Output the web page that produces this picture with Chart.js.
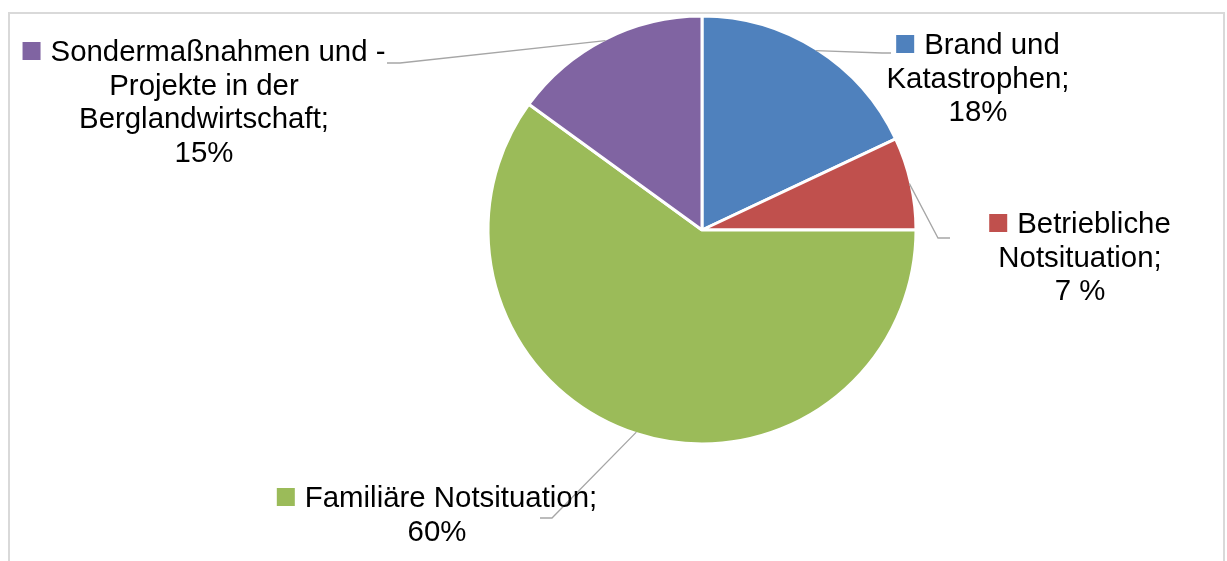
<!DOCTYPE html>
<html>
<head>
<meta charset="utf-8">
<script src="https://cdn.jsdelivr.net/npm/chart.js@4.4.1/dist/chart.umd.min.js"></script>
<style>
  body { margin: 0; background: #fff; }
  #wrap { position: relative; width: 1227px; height: 561px; }
</style>
</head>
<body>
<div id="wrap"><canvas id="pie-chart" width="1227" height="561"></canvas></div>
<script>
// data for pie chart
const categories = ["Brand und Katastrophen", "Betriebliche Notsituation", "Familiäre Notsituation", "Sondermaßnahmen und -Projekte in der Berglandwirtschaft"];
const shares = [18, 7, 60, 15];
const shareText = ["18%", "7 %", "60%", "15%"];
// how each label is broken into lines (text as in the original)
const labelLines = [
  ["Brand und", "Katastrophen;", "18%"],
  ["Betriebliche", "Notsituation;", "7 %"],
  ["Familiäre Notsituation;", "60%"],
  ["Sondermaßnahmen und -", "Projekte in der", "Berglandwirtschaft;", "15%"]
];
const colors = ['#4F81BD', '#C0504D', '#9BBB59', '#8064A2'];

// label placement (center x, first baseline, leader elbow + end)
const labelPos = [
  { cx: 978, y: 54, elbow: [882, 53], end: [891, 53] },
  { cx: 1080, y: 233, elbow: [938, 238], end: [950, 238] },
  { cx: 437, y: 507, elbow: [552, 518], end: [540, 518] },
  { cx: 204, y: 61, elbow: [400, 63], end: [387, 63] }
];

const font = '29.4px "Liberation Sans", Arial, sans-serif';
const lineGap = 33.5;

// frame round the chart
const framePlugin = {
  id: 'frame',
  beforeDraw(chart) {
    const ctx = chart.ctx;
    ctx.save();
    ctx.strokeStyle = '#D9D9D9';
    ctx.lineWidth = 2;
    ctx.strokeRect(9, 13, 1215, 600);
    ctx.restore();
  }
};

// labels with leader lines
const labelPlugin = {
  id: 'pieLabels',
  afterDatasetsDraw(chart) {
    const ctx = chart.ctx;
    const arcs = chart.getDatasetMeta(0).data;
    ctx.save();
    arcs.forEach((arc, i) => {
      const p = labelPos[i];
      const mid = (arc.startAngle + arc.endAngle) / 2;
      const sx = arc.x + Math.cos(mid) * (arc.outerRadius - 1.5);
      const sy = arc.y + Math.sin(mid) * (arc.outerRadius - 1.5);
      ctx.strokeStyle = '#A6A6A6';
      ctx.lineWidth = 1.3;
      ctx.beginPath();
      ctx.moveTo(sx, sy);
      ctx.lineTo(p.elbow[0], p.elbow[1]);
      ctx.lineTo(p.end[0], p.end[1]);
      ctx.stroke();

      ctx.font = font;
      ctx.textBaseline = 'alphabetic';
      ctx.fillStyle = '#000';
      labelLines[i].forEach((line, j) => {
        const y = p.y + j * lineGap;
        const w = ctx.measureText(line).width;
        if (j === 0) {
          const total = 18 + 10 + w;
          const left = p.cx - total / 2;
          ctx.fillStyle = colors[i];
          ctx.fillRect(left, y - 19, 18, 18);
          ctx.fillStyle = '#000';
          ctx.textAlign = 'left';
          ctx.fillText(line, left + 28, y);
        } else {
          ctx.textAlign = 'center';
          ctx.fillText(line, p.cx, y);
        }
      });
    });
    ctx.restore();
  }
};

new Chart('pie-chart', {
  type: 'pie',
  data: {
    labels: categories,
    datasets: [{
      data: shares,
      backgroundColor: colors,
      borderColor: '#fff',
      borderWidth: 3
    }]
  },
  options: {
    responsive: false,
    animation: false,
    layout: {
      padding: { top: 14.5, bottom: 115.5, left: 486.5, right: 309.5 }
    },
    plugins: {
      legend: { display: false },
      tooltip: { enabled: false }
    }
  },
  plugins: [framePlugin, labelPlugin]
});
</script>
</body>
</html>
